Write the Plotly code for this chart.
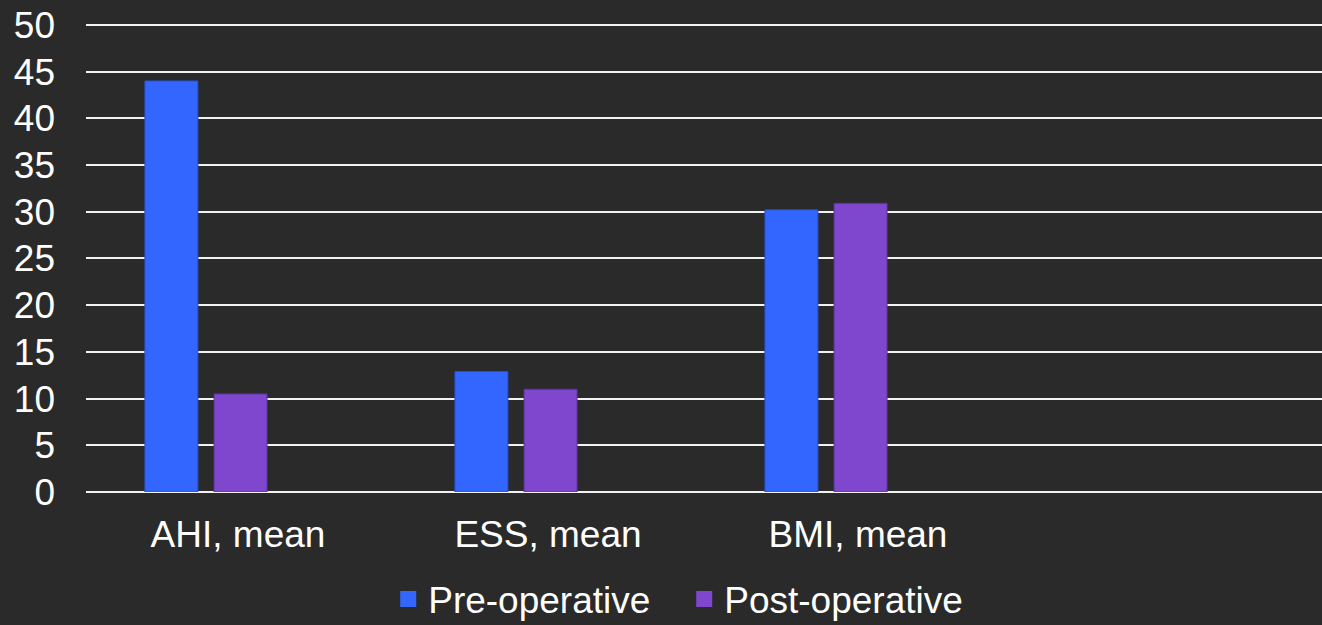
import plotly.graph_objects as go

categories = ["AHI, mean", "ESS, mean", "BMI, mean"]
pre_operative = [44.0, 12.9, 30.2]
post_operative = [10.5, 11.0, 30.9]
y_ticks = [0, 5, 10, 15, 20, 25, 30, 35, 40, 45, 50]

FONT = "Liberation Sans, Arial, sans-serif"
BG = "#2a2a2a"
BLUE = "#3366FF"
PURPLE = "#7F46CE"

fig = go.Figure()
fig.add_trace(go.Bar(
    x=categories, y=pre_operative, name="Pre-operative", showlegend=False,
    marker=dict(color=BLUE, line=dict(color="#2a4fc4", width=1)),
    width=0.171, offset=-0.197,
))
fig.add_trace(go.Bar(
    x=categories, y=post_operative, name="Post-operative", showlegend=False,
    marker=dict(color=PURPLE, line=dict(color="#5c339c", width=1)),
    width=0.171, offset=0.026,
))
# legend-only entries with larger square swatches
for name, col in [("Pre-operative", BLUE), ("Post-operative", PURPLE)]:
    fig.add_trace(go.Scatter(
        x=[None], y=[None], mode="markers", name=name,
        marker=dict(symbol="square", size=20, color=col, line=dict(width=0)),
        hoverinfo="skip",
    ))

fig.update_layout(
    width=1322, height=625,
    margin=dict(l=86, r=0, t=23, b=133, autoexpand=False),
    paper_bgcolor=BG, plot_bgcolor=BG,
    font=dict(family=FONT, size=36, color="#ffffff"),
    barmode="group",
    showlegend=True,
    legend=dict(
        orientation="h", x=0.484, xanchor="center", y=-0.163, yanchor="top",
        font=dict(family=FONT, size=37, color="#ffffff"),
        itemsizing="trace", bgcolor="rgba(0,0,0,0)",
        entrywidth=251, entrywidthmode="pixels",
    ),
    xaxis=dict(
        type="category", categoryorder="array", categoryarray=categories,
        range=[-0.387, 3.6], showgrid=False, zeroline=False,
        showline=False, ticks="", ticklabelstandoff=17, ticklabelshift=32,
        tickfont=dict(family=FONT, size=37, color="#ffffff"),
        automargin=False,
    ),
    yaxis=dict(
        range=[0, 50.2], tickvals=y_ticks, showgrid=True,
        gridcolor="#f2f2f2", gridwidth=2,
        zeroline=True, zerolinecolor="#f2f2f2", zerolinewidth=2,
        showline=False, ticks="", ticklabelstandoff=30,
        tickfont=dict(family=FONT, size=37, color="#ffffff"),
        automargin=False,
    ),
)

fig.write_html("out.html")
